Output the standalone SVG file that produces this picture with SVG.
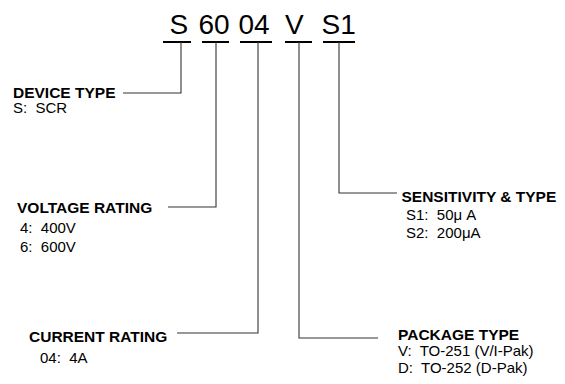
<svg xmlns="http://www.w3.org/2000/svg" width="565" height="384" viewBox="0 0 565 384">
<style>
.code{font-family:"Liberation Sans",Arial,sans-serif;font-size:28px;fill:#000}
.h{font-family:"Liberation Sans",Arial,sans-serif;font-size:15.5px;font-weight:bold;fill:#000}
.t{font-family:"Liberation Sans",Arial,sans-serif;font-size:15px;fill:#000}
.ul{stroke:#000;stroke-width:2;fill:none}
.c{stroke:#333;stroke-width:1.1;fill:none}
</style>
<rect width="565" height="384" fill="#fff"/>
<g id="code">
<text class="code" x="169.5" y="33.5">S</text>
<text class="code" x="198.5" y="33.5">60</text>
<text class="code" x="238.5" y="33.5">04</text>
<text class="code" x="285" y="33.5">V</text>
<text class="code" x="321.5" y="33.5">S1</text>
<path class="ul" d="M163 42H191M202 42H229M240 42H272M285 42H312M323 42H355"/>
</g>
<g id="connectors">
<path class="c" d="M181 42V93H123"/>
<path class="c" d="M216 42V207H168"/>
<path class="c" d="M258 42V333H177"/>
<path class="c" d="M299 42V338H378"/>
<path class="c" d="M339 42V193H397"/>
</g>
<g id="device-type">
<text class="h" x="13" y="97.5">DEVICE TYPE</text>
<text class="t" x="13" y="113" xml:space="preserve">S:  SCR</text>
</g>
<g id="voltage-rating">
<text class="h" x="17" y="212.5">VOLTAGE RATING</text>
<text class="t" x="20" y="233" xml:space="preserve">4:  400V</text>
<text class="t" x="20" y="251.5" xml:space="preserve">6:  600V</text>
</g>
<g id="current-rating">
<text class="h" x="29" y="341.5">CURRENT RATING</text>
<text class="t" x="40" y="363" xml:space="preserve">04:  4A</text>
</g>
<g id="sensitivity">
<text class="h" x="401.5" y="202">SENSITIVITY &amp; TYPE</text>
<text class="t" x="406" y="220" xml:space="preserve">S1:  50μ A</text>
<text class="t" x="406" y="238" xml:space="preserve">S2:  200μA</text>
</g>
<g id="package">
<text class="h" x="398" y="340">PACKAGE TYPE</text>
<text class="t" x="398" y="356" xml:space="preserve">V:  TO-251 (V/I-Pak)</text>
<text class="t" x="398" y="373" xml:space="preserve">D:  TO-252 (D-Pak)</text>
</g>
</svg>
